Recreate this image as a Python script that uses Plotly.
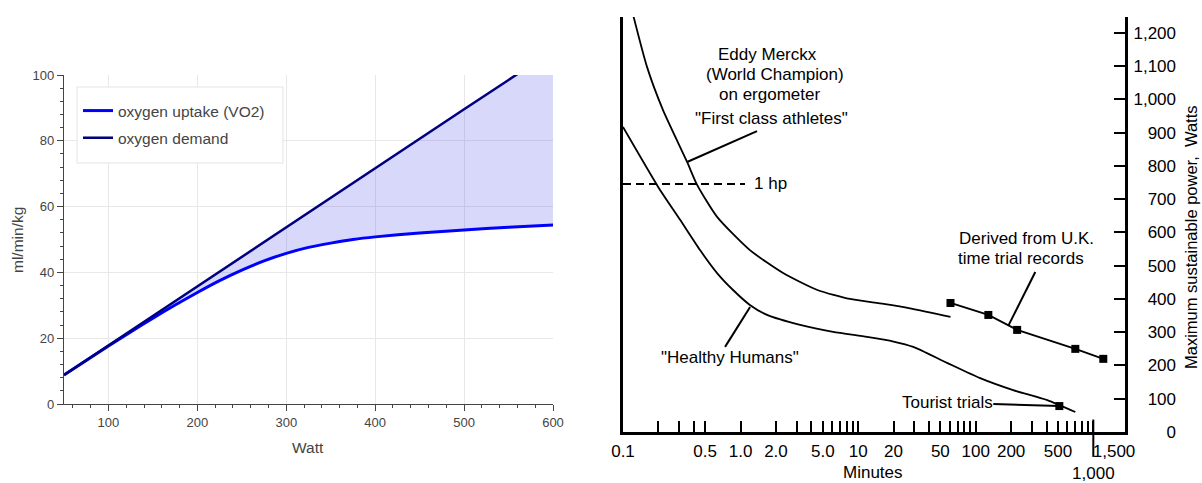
import math
import plotly.graph_objects as go

# ---------------- Left panel data (oxygen uptake vs demand) ----------------
watts = [50, 75, 100, 125, 150, 175, 200, 225, 250, 275, 300, 325, 350, 375, 400, 450, 500, 550, 600]
oxygen_demand = [8.8, 13.3, 17.8, 22.3, 26.8, 31.2, 35.7, 40.2, 44.7, 49.2, 53.7, 58.2, 62.6, 67.1,
                 71.6, 80.6, 89.6, 98.5, 107.5]
oxygen_uptake = [8.8, 13.2, 17.6, 21.9, 26.1, 30.1, 33.9, 37.5, 40.7, 43.5, 45.8, 47.6, 48.9, 50.0,
                 50.8, 52.0, 52.9, 53.7, 54.4]

# ---------------- Right panel data (sustainable power vs duration) ----------------
athletes_min = [0.122, 0.160, 0.219, 0.351, 0.427, 0.631, 1.2, 2.3, 4.5, 8.5, 16.5, 29, 61]
athletes_w = [1254, 1098, 968, 812, 743, 647, 547, 478, 427, 400, 385, 370, 346]

healthy_min = [0.1, 0.199, 0.306, 0.452, 0.631, 0.863, 1.2, 1.68, 3.21, 6.12, 11.9, 20, 29.4, 57, 109, 208, 406, 703]
healthy_w = [917, 737, 638, 547, 478, 427, 382, 352, 322, 301, 286, 272, 256, 208, 162, 126, 96, 60]

records_min = [61, 128, 225, 703, 1216]
records_w = [388, 352, 307, 250, 220]

tourist_min = [514]
tourist_w = [78]

one_hp_min = [0.1, 1.09]
one_hp_w = [746, 746]

# leader lines (minutes, watts)
lead_athletes_min, lead_athletes_w = [0.351, 1.38], [812, 905]
lead_healthy_min, lead_healthy_w = [1.205, 0.738], [376, 256]
lead_records_min, lead_records_w = [189, 321], [319, 481]
lead_tourist_min, lead_tourist_w = [141, 514], [84, 78]

# text labels (text, minutes, watts, xanchor)
labels = [
    ("Eddy Merckx", 1.71, 1134, "center"),
    ("(World Champion)", 1.97, 1074, "center"),
    ("on ergometer", 1.75, 1014, "center"),
    ('"First class athletes"', 1.85, 944, "center"),
    ("1 hp", 1.25, 746, "left"),
    ('"Healthy Humans"', 0.81, 223, "center"),
    ("Derived from U.K.", 269, 583, "center"),
    ("time trial records", 244, 523, "center"),
    ("Tourist trials", 57, 90, "center"),
]

minor_tick_minutes = [0.2, 0.3, 0.4, 0.5, 1, 2, 3, 4, 5, 6, 7, 8, 9, 10, 20, 30, 40, 50, 60, 70, 80, 90,
                      100, 200, 300, 400, 500, 600, 700, 800, 900, 1000]
label_tick_minutes = [0.1, 0.5, 1, 2, 5, 10, 20, 50, 100, 200, 500, 1000, 1500]
label_tick_text = ["0.1", "0.5", "1.0", "2.0", "5.0", "10", "20", "50", "100", "200", "500", "<br>1,000", "1,500"]
power_ticks = [0, 100, 200, 300, 400, 500, 600, 700, 800, 900, 1000, 1100, 1200]
power_tick_text = ["0", "100", "200", "300", "400", "500", "600", "700", "800", "900", "1,000", "1,100", "1,200"]

minutes_axis_min, minutes_axis_max = 0.1, 1860
power_axis_max = 1248

# ---------------- Layout helpers ----------------
W, H = 1202, 483
def px(x):
    return x / W
def py(y):
    return 1 - y / H

FONT = "Liberation Sans, Arial, Helvetica, sans-serif"
GREY = "#444444"

fig = go.Figure()

# Left panel: fill between uptake and demand
fig.add_trace(go.Scatter(x=watts, y=oxygen_uptake, mode="lines", line=dict(width=0, color="rgba(0,0,0,0)"),
                         showlegend=False, hoverinfo="skip", xaxis="x", yaxis="y"))
fig.add_trace(go.Scatter(x=watts, y=oxygen_demand, mode="lines", line=dict(width=0, color="rgba(0,0,0,0)"),
                         fill="tonexty", fillcolor="rgba(60,60,235,0.20)",
                         showlegend=False, hoverinfo="skip", xaxis="x", yaxis="y"))
fig.add_trace(go.Scatter(x=watts, y=oxygen_uptake, mode="lines", name="oxygen uptake (VO2)",
                         line=dict(color="#0000ff", width=3, shape="spline", smoothing=0.6),
                         legendgroup="a", xaxis="x", yaxis="y"))
fig.add_trace(go.Scatter(x=watts, y=oxygen_demand, mode="lines", name="oxygen demand",
                         line=dict(color="#000080", width=2.5),
                         legendgroup="b", xaxis="x", yaxis="y"))

# Right panel curves
blk = dict(color="black", width=1.8)
fig.add_trace(go.Scatter(x=athletes_min, y=athletes_w, mode="lines",
                         line=dict(color="black", width=1.8, shape="spline", smoothing=0.6),
                         showlegend=False, xaxis="x2", yaxis="y2"))
fig.add_trace(go.Scatter(x=healthy_min, y=healthy_w, mode="lines",
                         line=dict(color="black", width=1.8, shape="spline", smoothing=0.6),
                         showlegend=False, xaxis="x2", yaxis="y2"))
fig.add_trace(go.Scatter(x=records_min, y=records_w, mode="lines+markers",
                         line=blk, marker=dict(symbol="square", size=8, color="black"),
                         showlegend=False, xaxis="x2", yaxis="y2"))
fig.add_trace(go.Scatter(x=tourist_min, y=tourist_w, mode="markers",
                         marker=dict(symbol="square", size=8, color="black"),
                         showlegend=False, xaxis="x2", yaxis="y2"))
fig.add_trace(go.Scatter(x=one_hp_min, y=one_hp_w, mode="lines",
                         line=dict(color="black", width=2, dash="8px,5px"),
                         showlegend=False, xaxis="x2", yaxis="y2"))
for lx, ly in [(lead_athletes_min, lead_athletes_w), (lead_healthy_min, lead_healthy_w),
               (lead_records_min, lead_records_w), (lead_tourist_min, lead_tourist_w)]:
    fig.add_trace(go.Scatter(x=lx, y=ly, mode="lines", line=dict(color="black", width=2),
                             showlegend=False, xaxis="x2", yaxis="y2"))

# helper traces so that the label-only overlay axes exist
fig.add_trace(go.Scatter(x=[None], y=[None], xaxis="x3", yaxis="y2", showlegend=False, hoverinfo="skip"))
fig.add_trace(go.Scatter(x=[None], y=[None], xaxis="x2", yaxis="y3", showlegend=False, hoverinfo="skip"))

xr = [math.log10(minutes_axis_min), math.log10(minutes_axis_max)]

annotations = []
for text, m, w, anchor in labels:
    annotations.append(dict(text=text, x=math.log10(m), y=w, xref="x2", yref="y2", xanchor=anchor,
                            yanchor="middle", showarrow=False, font=dict(family=FONT, size=17, color="black")))
annotations += [
    dict(text="Minutes", x=px(873), y=py(472), xref="paper", yref="paper", showarrow=False,
         xanchor="center", yanchor="middle", font=dict(family=FONT, size=17, color="black")),
    dict(text="Maximum sustainable power,  Watts", x=px(1191), y=py(238), xref="paper", yref="paper",
         xanchor="center", yanchor="middle",
         textangle=-90, showarrow=False, font=dict(family=FONT, size=16.5, color="black")),
    dict(text="ml/min/kg", x=px(17), y=py(240), xref="paper", yref="paper", textangle=-90,
         xanchor="center", yanchor="middle",
         showarrow=False, font=dict(family=FONT, size=15.5, color=GREY)),
    dict(text="Watt", x=px(308), y=py(447), xref="paper", yref="paper", showarrow=False,
         xanchor="center", yanchor="middle", font=dict(family=FONT, size=15.5, color=GREY)),
]

k1000 = (math.log10(1000) - xr[0]) / (xr[1] - xr[0])
shapes = [
    dict(type="rect", xref="paper", yref="paper", x0=px(77), x1=px(283), y0=py(163), y1=py(87),
         fillcolor="white", line=dict(color="#e3e3e3", width=1), layer="above"),
    dict(type="line", xref="x2 domain", yref="y2 domain", x0=k1000, x1=k1000, y0=-0.06, y1=0.03,
         line=dict(color="black", width=2)),
]

fig.update_layout(
    width=W, height=H, margin=dict(l=0, r=0, t=0, b=0, autoexpand=False),
    paper_bgcolor="white", plot_bgcolor="white",
    font=dict(family=FONT),
    showlegend=True,
    legend=dict(x=px(78), y=py(94), xanchor="left", yanchor="top", bgcolor="rgba(0,0,0,0)",
                borderwidth=0, font=dict(family=FONT, size=15.5, color=GREY),
                traceorder="grouped", tracegroupgap=4),
    xaxis=dict(domain=[px(64), px(553)], range=[50, 600], tick0=0, dtick=100, anchor="y",
               showline=True, linecolor=GREY, linewidth=1.3, ticks="outside", ticklen=6, tickcolor=GREY,
               tickfont=dict(family=FONT, size=13, color=GREY), showgrid=True, gridcolor="#e8e8e8",
               zeroline=False, automargin=False,
               minor=dict(dtick=20, tick0=0, ticks="outside", ticklen=3, tickcolor=GREY, showgrid=False)),
    yaxis=dict(domain=[py(404), py(75)], range=[0, 100], tick0=0, dtick=20, anchor="x",
               showline=True, linecolor=GREY, linewidth=1.3, ticks="outside", ticklen=6, tickcolor=GREY,
               tickfont=dict(family=FONT, size=13, color=GREY), showgrid=True, gridcolor="#e8e8e8",
               zeroline=False, automargin=False,
               minor=dict(dtick=4, tick0=0, ticks="outside", ticklen=3, tickcolor=GREY, showgrid=False)),
    xaxis2=dict(domain=[px(623), px(1125)], type="log", range=xr, anchor="y2",
                showline=True, linecolor="black", linewidth=3, ticks="inside", ticklen=11, tickwidth=1.6,
                tickcolor="black", tickmode="array", tickvals=minor_tick_minutes, showticklabels=False,
                showgrid=False, zeroline=False, automargin=False),
    xaxis3=dict(type="log", range=xr, overlaying="x2", anchor="y2", side="bottom",
                tickmode="array", tickvals=label_tick_minutes, ticktext=label_tick_text, ticks="",
                tickangle=0, ticklabelstandoff=7, showline=False, showgrid=False, zeroline=False,
                automargin=False, tickfont=dict(family=FONT, size=17, color="black")),
    yaxis2=dict(domain=[py(432), py(17)], range=[0, power_axis_max], anchor="x2", side="right",
                showline=True, mirror=True, linecolor="black", linewidth=2.5, ticks="inside", ticklen=11,
                tickwidth=2, tickcolor="black", tickmode="array", tickvals=power_ticks[1:],
                showticklabels=False, showgrid=False, zeroline=False, automargin=False),
    yaxis3=dict(range=[0, power_axis_max], overlaying="y2", anchor="free", position=px(1176), side="left",
                tickmode="array", tickvals=power_ticks, ticktext=power_tick_text, ticks="",
                showline=False, showgrid=False, zeroline=False, automargin=False,
                tickfont=dict(family=FONT, size=17, color="black")),
    annotations=annotations,
    shapes=shapes,
)

fig.write_html("out.html")
